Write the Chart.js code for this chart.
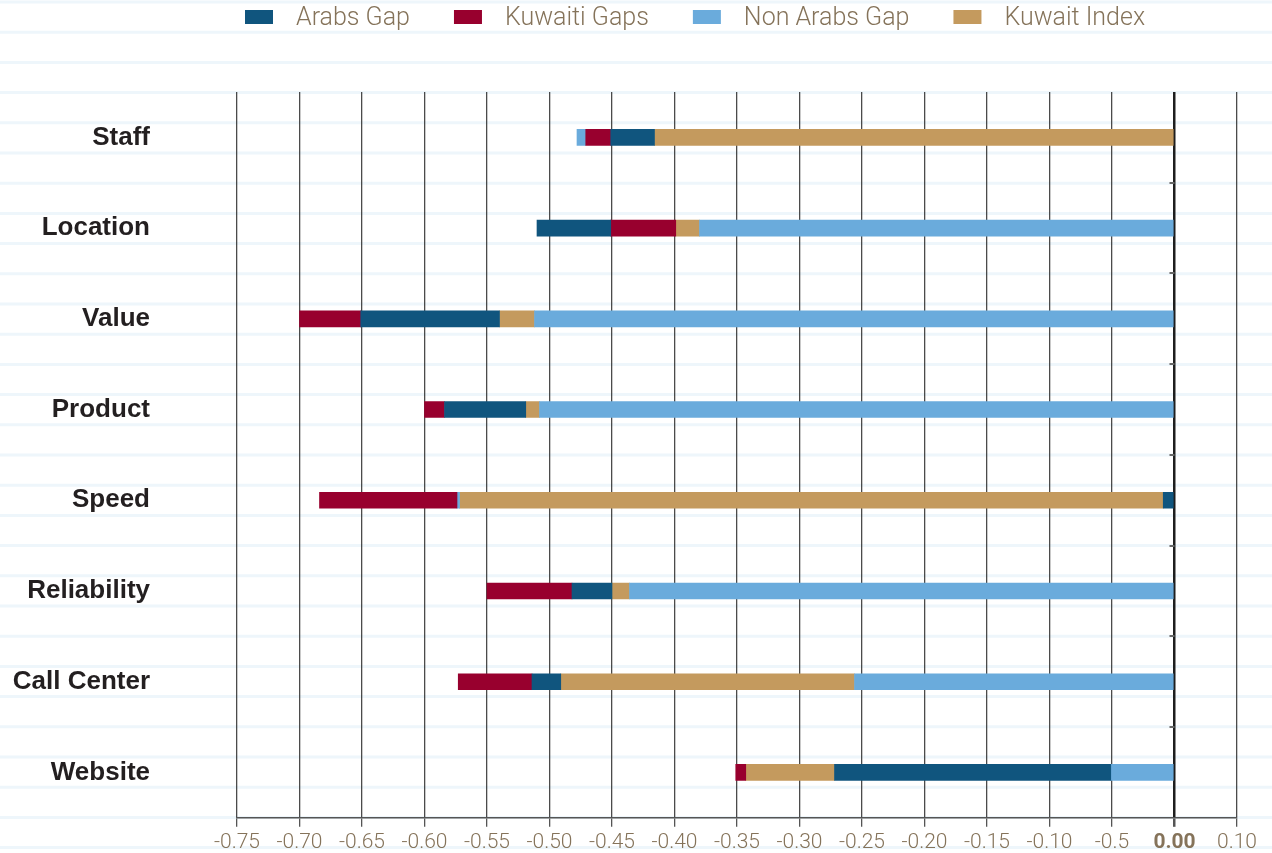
<!DOCTYPE html>
<html>
<head>
<meta charset="utf-8">
<title>Kuwait index gaps</title>
<script src="https://cdn.jsdelivr.net/npm/chart.js@4.4.1/dist/chart.umd.min.js"></script>
<style>
  html, body { margin: 0; padding: 0; background: #fff; }
  canvas { display: block; }
</style>
</head>
<body>
<canvas id="gaps" width="1272" height="853"></canvas>
<script>
// bar extents per driver (all measured from the zero line)
const categories = ["Staff", "Location", "Value", "Product", "Speed", "Reliability", "Call Center", "Website"];
const arabsGap    = [-0.451, -0.510, -0.651, -0.584, -0.009, -0.482, -0.514, -0.272];
const kuwaitiGaps = [-0.471, -0.451, -0.700, -0.600, -0.684, -0.550, -0.573, -0.351];
const nonArabsGap = [-0.478, -0.380, -0.512, -0.508, -0.574, -0.436, -0.256, -0.051];
const kuwaitIndex = [-0.416, -0.399, -0.540, -0.519, -0.572, -0.450, -0.491, -0.343];

const xTickLabels = ["-0.75", "-0.70", "-0.65", "-0.60", "-0.55", "-0.50", "-0.45", "-0.40",
  "-0.35", "-0.30", "-0.25", "-0.20", "-0.15", "-0.10", "-0.5", "0.00", "0.10"];

const seriesNames  = ["Arabs Gap", "Kuwaiti Gaps", "Non Arabs Gap", "Kuwait Index"];
const seriesValues = [arabsGap, kuwaitiGaps, nonArabsGap, kuwaitIndex];
const seriesColors = ["#10557e", "#98002e", "#6aabdc", "#c49a5e"];

const LABEL_BROWN = "#85735a";

// bars overlap from zero, so each one only shows the part beyond the next shorter bar
function visibleSegments(values) {
  return values.map((v, i) => {
    let start = 0;
    seriesValues.forEach((s) => {
      const w = s[i];
      if (Math.abs(w) < Math.abs(v) && Math.abs(w) > Math.abs(start)) start = w;
    });
    return [start, v];
  });
}

// faint ruled lines behind everything
const paperLines = {
  id: "paperLines",
  beforeDraw(chart) {
    const { ctx, width, height } = chart;
    ctx.save();
    ctx.fillStyle = "#ffffff";
    ctx.fillRect(0, 0, width, height);
    ctx.strokeStyle = "#eef6fb";
    ctx.lineWidth = 3;
    for (let y = 2; y < height; y += 30.2) {
      ctx.beginPath();
      ctx.moveTo(0, y);
      ctx.lineTo(width, y);
      ctx.stroke();
    }
    ctx.restore();
  },
};

// short category ticks sitting on the zero line
const zeroTicks = {
  id: "zeroTicks",
  afterDraw(chart) {
    const { ctx, scales } = chart;
    const x0 = scales.x.getPixelForValue(0);
    ctx.save();
    ctx.strokeStyle = "#666";
    ctx.lineWidth = 2;
    for (let i = 1; i < categories.length; i++) {
      const y = Math.round((scales.y.getPixelForValue(i - 1) + scales.y.getPixelForValue(i)) / 2);
      ctx.beginPath();
      ctx.moveTo(x0 - 5, y);
      ctx.lineTo(x0, y);
      ctx.stroke();
    }
    ctx.restore();
  },
};

// one-row legend across the top
const legendRow = {
  id: "legendRow",
  afterDraw(chart) {
    const { ctx } = chart;
    ctx.save();
    ctx.font = "300 25px Roboto";
    ctx.textBaseline = "middle";
    let x = 245;
    chart.data.datasets.forEach((ds) => {
      ctx.fillStyle = ds.backgroundColor;
      ctx.fillRect(x, 10, 28, 14);
      x += 28 + 23;
      ctx.fillStyle = LABEL_BROWN;
      ctx.fillText(ds.label, x, 19);
      x += ctx.measureText(ds.label).width + 44;
    });
    ctx.restore();
  },
};

new Chart(document.getElementById("gaps"), {
  type: "bar",
  data: {
    labels: categories,
    datasets: seriesNames.map((name, k) => ({
      label: name,
      data: visibleSegments(seriesValues[k]),
      backgroundColor: seriesColors[k],
      borderWidth: 0,
      barThickness: 16,
      grouped: false,
    })),
  },
  options: {
    indexAxis: "y",
    responsive: false,
    animation: false,
    devicePixelRatio: 1,
    layout: {
      padding: { top: 92, right: 35, bottom: 0, left: 0 },
    },
    plugins: {
      legend: { display: false },
      tooltip: { enabled: false },
    },
    scales: {
      x: {
        type: "linear",
        min: -0.75,
        max: 0.05,
        z: 1,
        ticks: {
          stepSize: 0.05,
          autoSkip: false,
          maxRotation: 0,
          padding: 3,
          color: LABEL_BROWN,
          font: (c) => ({
            family: "Roboto",
            size: 21,
            weight: c.index === 15 ? "bold" : "300",
          }),
          callback: (value, index) => xTickLabels[index],
        },
        grid: {
          color: (c) => (c.tick && Math.abs(c.tick.value) < 1e-9 ? "#1e1e1e" : "rgba(30, 30, 30, 0.8)"),
          lineWidth: (c) => (c.tick && Math.abs(c.tick.value) < 1e-9 ? 2.5 : 1.3),
          tickColor: "#555",
          tickLength: 9,
        },
        border: { display: true, color: "#555", width: 1.5 },
        afterFit: (scale) => {
          // let the tick labels hang close to the bottom edge
          scale.height -= 5;
        },
      },
      y: {
        type: "category",
        grid: { display: false, drawTicks: false },
        border: { display: false },
        ticks: {
          padding: 87,
          color: "#231f20",
          font: { family: "'Liberation Sans', Arial, sans-serif", size: 26, weight: "bold" },
        },
        afterFit: (scale) => {
          // the wide label gap should not push the plot down from the top/bottom
          scale.width = 237;
          scale.paddingTop = 0;
          scale.paddingBottom = 0;
        },
      },
    },
  },
  plugins: [paperLines, zeroTicks, legendRow],
});
</script>
</body>
</html>
